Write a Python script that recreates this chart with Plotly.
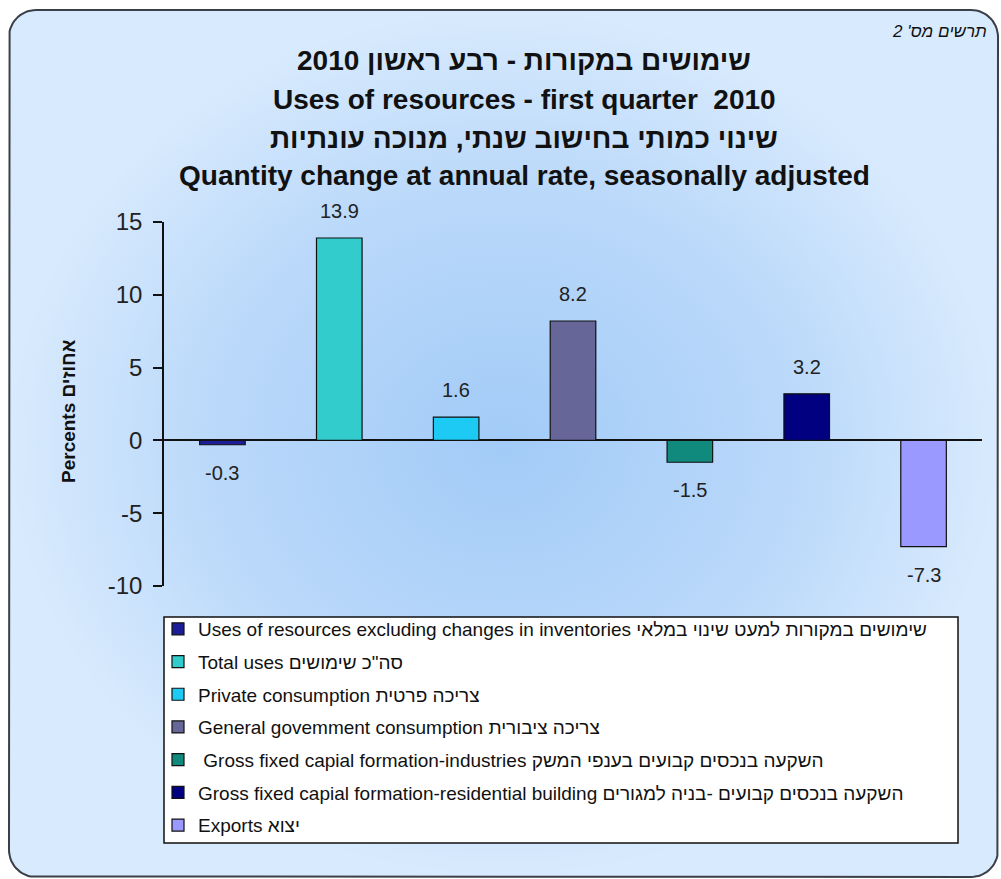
import numpy as np
import plotly.graph_objects as go

# ---------------- data ----------------
categories = [
    "Uses of resources excluding changes in inventories",
    "Total uses",
    "Private consumption",
    "General government consumption",
    "Gross fixed capital formation-industries",
    "Gross fixed capital formation-residential building",
    "Exports",
]
legend_labels = [
    "Uses of resources excluding changes in inventories שימושים במקורות למעט שינוי במלאי",
    "Total uses סה\"כ שימושים",
    "Private consumption צריכה פרטית",
    "General govemment consumption צריכה ציבורית",
    " Gross fixed capial formation-industries השקעה בנכסים קבועים בענפי המשק",
    "Gross fixed capial formation-residential building השקעה בנכסים קבועים -בניה למגורים",
    "Exports יצוא",
]
values = [-0.3, 13.9, 1.6, 8.2, -1.5, 3.2, -7.3]
bar_colors = ["#1c1c96", "#33cccc", "#1ccaf4", "#666699", "#0f8a7c", "#000080", "#9999ff"]
y_ticks = [-10, -5, 0, 5, 10, 15]
y_tick_labels = ["-10", "-5", "0", "5", "10", "15"]
title_lines = [
    "שימושים במקורות - רבע ראשון 2010",
    "Uses of resources - first quarter  2010",
    "שינוי כמותי בחישוב שנתי, מנוכה עונתיות",
    "Quantity change at annual rate, seasonally adjusted",
]
chart_number = "תרשים מס' 2"
y_title = "Percents אחוזים"

# ---------------- layout geometry (pixels) ----------------
W, H = 1001, 879
FONT = "Liberation Sans, Arial, sans-serif"
px_x = lambda p: p / W
px_y = lambda p: 1 - p / H

fig = go.Figure()

# background rounded frame with radial gradient (decoration on a full-page hidden axis)
def rounded_rect(x0, y0, x1, y1, r, n=16):
    xs, ys = [], []
    corners = [(x1 - r, y0 + r, -90, 0), (x1 - r, y1 - r, 0, 90),
               (x0 + r, y1 - r, 90, 180), (x0 + r, y0 + r, 180, 270)]
    for cx, cy, a0, a1 in corners:
        t = np.radians(np.linspace(a0, a1, n))
        xs.extend(cx + r * np.cos(t))
        ys.extend(cy + r * np.sin(t))
    xs.append(xs[0]); ys.append(ys[0])
    return xs, ys

fx, fy = rounded_rect(9, 10, 998, 877, 27)
fig.add_trace(go.Scatter(
    x=fx, y=fy, mode="lines", fill="toself",
    line=dict(color="#3b4048", width=2),
    fillgradient=dict(type="radial",
                      colorscale=[[0, "#a2cbf7"], [0.6, "#bbd9fa"], [1, "#d8eafd"]]),
    hoverinfo="skip", showlegend=False, xaxis="x", yaxis="y",
))

# bars
for i, (lab, v, c) in enumerate(zip(legend_labels, values, bar_colors)):
    fig.add_trace(go.Bar(
        x=[i], y=[v], name=lab, width=0.39,
        marker=dict(color=c, line=dict(color="#111111", width=1.2)),
        xaxis="x2", yaxis="y2", legendgroup=f"g{i}",
        hovertemplate=categories[i] + ": %{y}<extra></extra>",
    ))

annotations = []
# value labels
for i, v in enumerate(values):
    annotations.append(dict(
        x=i, y=v, xref="x2", yref="y2", text=f"{v:.1f}", showarrow=False,
        yanchor="middle", yshift=27 if v >= 0 else -28,
        font=dict(family=FONT, size=20, color="#222222"),
    ))
# titles
for k, (line, yc) in enumerate(zip(title_lines, [61, 99, 138, 176])):
    annotations.append(dict(
        x=px_x(524), y=px_y(yc), xref="paper", yref="paper", text=f"<b>{line}</b>",
        showarrow=False, xanchor="center", yanchor="middle",
        font=dict(family=FONT, size=28, color="#111111"),
    ))
annotations.append(dict(
    x=px_x(989), y=px_y(32), xref="paper", yref="paper", text=f"<i>{chart_number}</i>",
    showarrow=False, xanchor="right", yanchor="middle",
    font=dict(family=FONT, size=17, color="#111111"),
))
# y-axis title
annotations.append(dict(
    x=px_x(68), y=px_y(411), xref="paper", yref="paper", text=f"<b>{y_title}</b>",
    showarrow=False, xanchor="center", yanchor="middle", textangle=-90,
    font=dict(family=FONT, size=19, color="#111111"),
))

fig.update_layout(
    width=W, height=H,
    margin=dict(l=0, r=0, t=0, b=0, pad=0, autoexpand=False),
    paper_bgcolor="white", plot_bgcolor="rgba(0,0,0,0)",
    barmode="overlay",
    showlegend=True,
    xaxis=dict(domain=[0, 1], range=[0, W], visible=False, fixedrange=True),
    yaxis=dict(domain=[0, 1], range=[H, 0], visible=False, fixedrange=True),
    xaxis2=dict(domain=[px_x(164), px_x(982)], range=[-0.5, len(values) - 0.5],
                anchor="y2", visible=True, showticklabels=False, showline=False,
                showgrid=False, zeroline=False, ticks=""),
    yaxis2=dict(domain=[px_y(586), px_y(222)], range=[-10, 15], anchor="x2",
                tickvals=y_ticks, ticktext=y_tick_labels,
                ticks="outside", ticklen=9, tickwidth=1.5,
                tickcolor="#111111", showline=True, linecolor="#111111", linewidth=1.5,
                showgrid=False, zeroline=True, zerolinecolor="#111111", zerolinewidth=1.5,
                tickfont=dict(family=FONT, size=24, color="#222222"),
                ticklabelstandoff=6),
    legend=dict(
        x=px_x(158), y=px_y(610), xanchor="left", yanchor="top",
        bgcolor="rgba(0,0,0,0)", borderwidth=0,
        font=dict(family=FONT, size=19, color="#111111"),
        tracegroupgap=5, traceorder="grouped", itemwidth=30,
    ),
    shapes=[dict(type="rect", xref="paper", yref="paper",
                 x0=px_x(164), x1=px_x(958), y0=px_y(843), y1=px_y(617),
                 fillcolor="white", line=dict(color="#111111", width=1.5), layer="above")],
    annotations=annotations,
)

fig.write_html(
    "out.html",
    config={"displayModeBar": False},
    post_script="document.body.style.margin='0';document.body.style.overflow='hidden';",
)
